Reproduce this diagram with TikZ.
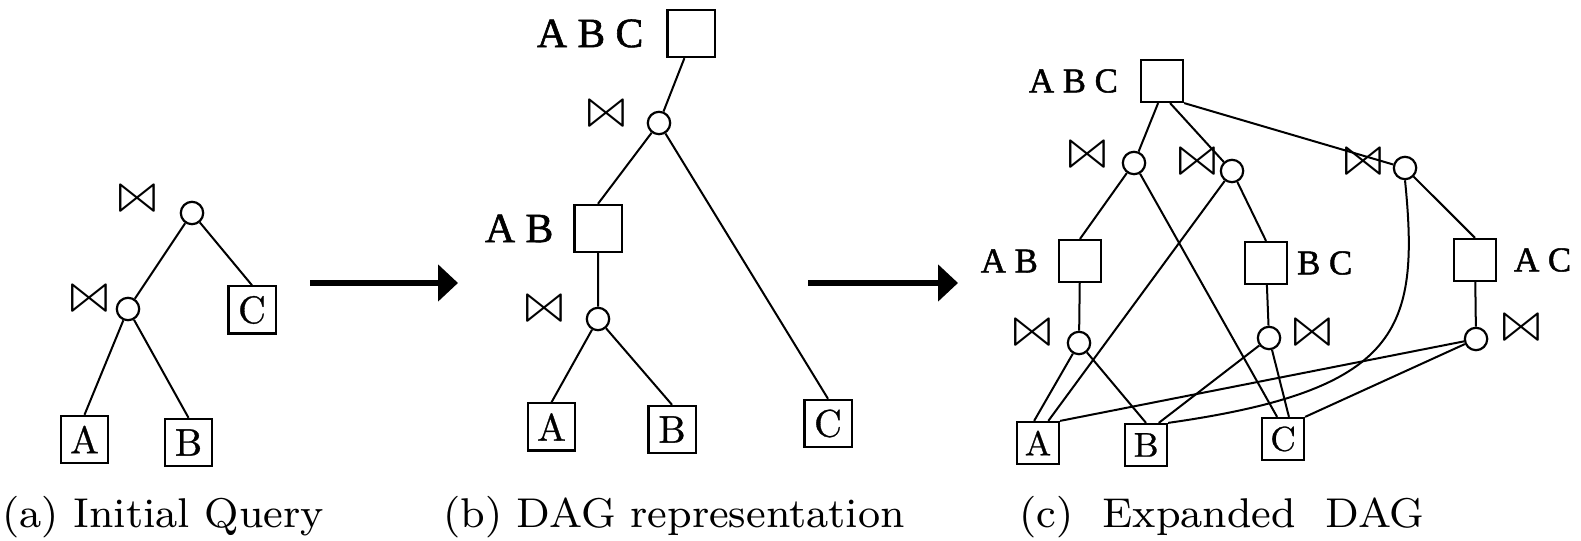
\documentclass[tikz,border=0pt]{standalone}
\usepackage{latexsym}
\usepackage{fontspec}
\newfontfamily\lblfont[FakeBold=1.4]{Liberation Serif}
\newfontfamily\relfont[FakeBold=0.8]{Latin Modern Roman}
\usetikzlibrary{positioning}
\usetikzlibrary{arrows.meta}
\newcommand{\jsym}{\scalebox{1.25}[1]{$\Join$}}
\tikzset{relbox/.style={draw,line width=0.55pt,minimum size=11.8pt,inner sep=0pt,font=\relfont\fontsize{9.6}{10}\selectfont}}
\tikzset{relsmall/.style={relbox,minimum size=10.5pt,font=\relfont\fontsize{8.6}{9}\selectfont}}
\tikzset{jn/.style={circle,draw,line width=0.55pt,minimum size=5.6pt,inner sep=0pt}}
\tikzset{bt/.style={inner sep=0pt,font=\fontsize{12}{12}\selectfont}}
\tikzset{lbl/.style={inner sep=0pt,font=\lblfont\fontsize{10.4}{11}\selectfont}}
\tikzset{lbls/.style={inner sep=0pt,font=\lblfont\fontsize{8.7}{9}\selectfont}}
\tikzset{capt/.style={inner sep=0pt,anchor=base west,scale=1.3,transform shape,font=\fontsize{8}{9}\selectfont}}
\tikzset{bigarrow/.style={line width=1.5pt,-{Triangle[length=5pt,width=9pt]}}}

\begin{document}
\begin{tikzpicture}[x=0.25pt,y=-0.25pt,line width=0.5pt]
            \useasboundingbox (0,0) rectangle (1581,541);
            % initial query
            \node [jn] (aj1) at (192,213) {};
            \node [jn] (aj2) at (128,309) {};
            \node [relbox] (aA) at (84.5,439.5) {A};
            \node [relbox] (aB) at (188.5,442.5) {B};
            \node [relbox] (aC) at (252,310) {C};
            \node [bt] (abt1) at (137,204) {\jsym};
            \node [bt] (abt2) at (89,304) {\jsym};
            \draw (aj1) -- (aj2) -- (aA.north);
            \draw (aj2) -- (aB.north);
            \draw (aj1) -- (aC.north);
            \node [capt] (acap) at (1,528) {(a) Initial Query};
            \coordinate (s1) at (310,283);
            \coordinate (t1) at (458,283);
            \draw [bigarrow] (s1) -- (t1);
            % dag
            \node [relbox] (babc) at (691,33.5) {};
            \node [lbl,left=5.5pt of babc] (babcl) {A B C};
            \node [jn] (bj1) at (659,123) {};
            \node [relbox] (bab) at (598,228.5) {};
            \node [lbl,left=4.75pt of bab] (babl) {A B};
            \node [jn] (bj2) at (598,319) {};
            \node [relbox] (bA) at (551.5,427) {A};
            \node [relbox] (bB) at (672,429.5) {B};
            \node [relbox] (bC) at (828,423.5) {C};
            \node [bt] (bbt1) at (606,119) {\jsym};
            \node [bt] (bbt2) at (544,314) {\jsym};
            \draw (babc.-105) -- (bj1) -- (bab.north);
            \draw (bj1) -- (bC.north);
            \draw (bab) -- (bj2) -- (bA.north);
            \draw (bj2) -- (bB.north);
            \node [capt] (bcap) at (442,528) {(b) DAG representation};
            \coordinate (s2) at (808,283);
            \coordinate (t2) at (958,283);
            \draw [bigarrow] (s2) -- (t2);
            % expanded dag
            \node [relsmall] (cabc) at (1162,81) {};
            \node [lbls,left=5.25pt of cabc] (cabcl) {A B C};
            \node [jn] (cj1) at (1134,163) {};
            \node [jn] (cj2) at (1232,171) {};
            \node [jn] (cj3) at (1405,168) {};
            \node [relsmall] (cab) at (1080,261) {};
            \node [lbls,left=4.75pt of cab] (cabl) {A B};
            \node [relsmall] (cbc) at (1266,263) {};
            \node [lbls,right=2pt of cbc] (cbcl) {B C};
            \node [relsmall] (cac) at (1475,260) {};
            \node [lbls,right=4pt of cac] (cacl) {A C};
            \node [jn] (cj4) at (1079,343) {};
            \node [jn] (cj5) at (1269,338) {};
            \node [jn] (cj6) at (1476,339) {};
            \node [relsmall] (cA) at (1038,443) {A};
            \node [relsmall] (cB) at (1146,445) {B};
            \node [relsmall] (cC) at (1283,439) {C};
            \node [bt] (cbt1) at (1087,160) {\jsym};
            \node [bt] (cbt2) at (1197,167) {\jsym};
            \node [bt] (cbt3) at (1363,167) {\jsym};
            \node [bt] (cbt4) at (1032,338) {\jsym};
            \node [bt] (cbt5) at (1312,338) {\jsym};
            \node [bt] (cbt6) at (1521,333) {\jsym};
            \draw (cabc.-100) -- (cj1) -- (cab.north);
            \draw (cabc.-70) -- (cj2) -- (cbc.north);
            \draw (cabc.south east) -- (cj3) -- (cac.north);
            \draw (cj1) -- (cC.105);
            \draw (cj2) -- (cA.65);
            \draw (cj3.south) .. controls (1420,330) and (1400,390) .. (cB.north east);
            \draw (cab) -- (cj4) -- (cA.100);
            \draw (cj4) -- (cB.north);
            \draw (cbc) -- (cj5) -- (cB.60);
            \draw (cj5) -- (cC.75);
            \draw (cac) -- (cj6) -- (cA.north east);
            \draw (cj6) -- (cC.north east);
            \node [capt] (ccap) at (1018,528) {(c)\ \ Expanded\ \ DAG};
        \end{tikzpicture}
\end{document}
